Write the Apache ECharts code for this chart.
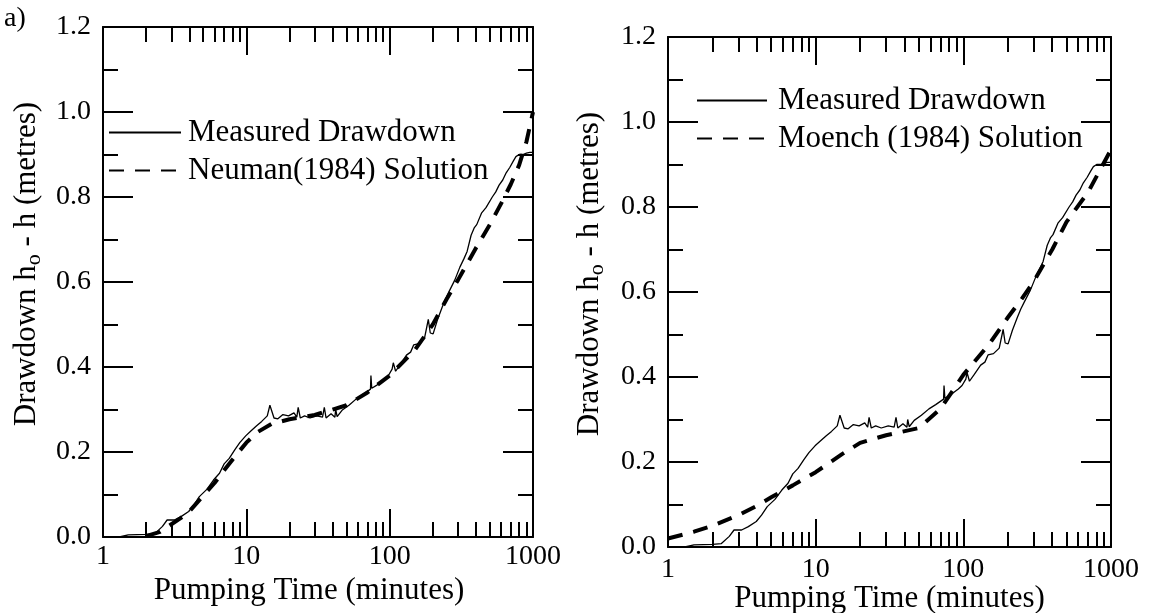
<!DOCTYPE html>
<html><head><meta charset="utf-8">
<script src="https://cdn.jsdelivr.net/npm/echarts@6/dist/echarts.min.js"></script>
<style>html,body{margin:0;padding:0;background:#fff}#c{width:1149px;height:613px}</style>
</head><body><div id="c"></div>
<script>
// ---- data ----
const measuredT = [1,1.3,1.5,2.0,2.3,2.6,2.8,3.15,3.5,3.96,4.3,4.7,5.3,5.9,6.5,7.0,7.6,8.3,9.0,9.9,10.8,11.8,12.8,14.0,14.6,15.0,15.6,16.6,18.0,19.7,21.5,22.5,23.0,23.8,25.5,27.8,31,34,35,36,39,41.5,42,43,46.5,52,58.5,65,73.5,74,75,82,92.5,98,104,106,110,118,131,140,147,160,175,183,186,192,201,215,232,245,260,285,309,330,347,370,390,405,437,470,520,550,580,615,650,690,730,760,800,850,900,950,1000];
const measuredY = [0,0,0.005,0.006,0.008,0.025,0.04,0.04,0.048,0.06,0.075,0.095,0.112,0.134,0.15,0.172,0.185,0.205,0.222,0.238,0.25,0.262,0.272,0.285,0.31,0.31,0.28,0.278,0.288,0.285,0.292,0.282,0.305,0.28,0.285,0.28,0.285,0.282,0.305,0.28,0.29,0.282,0.3,0.283,0.298,0.31,0.325,0.335,0.348,0.38,0.35,0.358,0.372,0.38,0.395,0.41,0.39,0.405,0.428,0.435,0.452,0.455,0.468,0.5,0.512,0.48,0.478,0.51,0.54,0.56,0.578,0.605,0.635,0.655,0.672,0.71,0.728,0.735,0.762,0.775,0.8,0.812,0.828,0.84,0.857,0.87,0.885,0.895,0.9,0.9,0.903,0.905,0.905];
const neumanT = [2,2.5,3,3.5,4,5,6,7,8,10,12,15,20,30,50,70,100,150,200,250,300,400,500,600,700,800,900,1000];
const neumanY = [0.002,0.012,0.03,0.045,0.06,0.097,0.127,0.157,0.182,0.222,0.247,0.266,0.277,0.287,0.31,0.34,0.38,0.44,0.5,0.56,0.605,0.68,0.735,0.785,0.83,0.875,0.93,1.0];
const moenchT = [1,1.5,2,3,4,5,7,10,15,20,30,50,70,100,150,200,250,300,400,500,700,1000];
const moenchY = [0.02,0.036,0.05,0.075,0.097,0.117,0.145,0.176,0.218,0.245,0.263,0.28,0.325,0.405,0.478,0.54,0.585,0.625,0.7,0.765,0.835,0.935];
const xLabels = ['1','10','100','1000'];
const yLabels = ['0.0','0.2','0.4','0.6','0.8','1.0','1.2'];
const panelLabel = 'a)';
const xTitle = 'Pumping Time (minutes)';
const yTitle = 'Drawdown h{sub|o} - h (metres)';
const legendNames = ['Measured Drawdown','Neuman(1984) Solution','Moench (1984) Solution'];

const pairs = (t, y) => t.map((v, i) => [v, y[i]]);
const FONT = '"Liberation Serif", "Times New Roman", "DejaVu Serif", serif';

function xAx(grid, pos, labels, nameGap, margin, namePad) {
  return {
    type: 'log', logBase: 10, min: 1, max: 1000, gridIndex: grid, position: pos,
    name: labels ? xTitle : '', nameLocation: 'middle', nameGap: nameGap, nameMoveOverlap: false,
    nameTextStyle: {fontFamily: FONT, fontSize: 31, color: '#000', padding: namePad},
    axisLine: {show: true, onZero: false, lineStyle: {color: '#000', width: 2}},
    axisTick: {show: true, inside: true, length: 28, lineStyle: {color: '#000', width: 2}},
    minorTick: {show: true, splitNumber: 9, length: 15, lineStyle: {color: '#000', width: 2}},
    axisLabel: {show: labels, fontFamily: FONT, fontSize: 28, color: '#000', margin: margin,
      formatter: v => xLabels[Math.round(Math.log10(v))]},
    splitLine: {show: false}, minorSplitLine: {show: false}
  };
}
function yAx(grid, pos, labels, nameGap) {
  return {
    type: 'value', min: 0, max: 1.2, interval: 0.2, gridIndex: grid, position: pos,
    name: labels ? yTitle : '', nameLocation: 'middle', nameGap: nameGap, nameRotate: 90, nameMoveOverlap: false,
    nameTextStyle: {fontFamily: FONT, fontSize: 31, color: '#000', lineHeight: 36, padding: [0, 0, 0, 36],
      rich: {sub: {fontFamily: FONT, fontSize: 22, color: '#000', verticalAlign: 'bottom', lineHeight: 18}}},
    axisLine: {show: true, onZero: false, lineStyle: {color: '#000', width: 2}},
    axisTick: {show: true, inside: true, length: 30, lineStyle: {color: '#000', width: 2}},
    minorTick: {show: true, splitNumber: 2, length: 15, lineStyle: {color: '#000', width: 2}},
    axisLabel: {show: labels, fontFamily: FONT, fontSize: 28, color: '#000', margin: 12,
      formatter: v => yLabels[Math.round(v / 0.2)]},
    splitLine: {show: false}
  };
}
const measuredStyle = {color: '#000', width: 1.3, type: 'solid'};
const dashStyle = {color: '#000', width: 4, type: [15, 11]};
function legendOf(left, top, width, textPad, names) {
  return {left: left, top: top, padding: 0, orient: 'vertical', itemWidth: width, itemHeight: 14, itemGap: 7,
    selectedMode: false, data: names, itemStyle: {opacity: 0, borderWidth: 0},
    textStyle: {fontFamily: FONT, fontSize: 31, color: '#000', padding: [0, 0, 0, textPad]}};
}

const chart = echarts.init(document.getElementById('c'), null, {renderer: 'canvas'});
chart.setOption({
  animation: false,
  backgroundColor: '#fff',
  color: ['#000'],
  textStyle: {fontFamily: FONT},
  grid: [
    {left: 103, top: 27, width: 430, height: 510, containLabel: false, outerBoundsMode: 'none'},
    {left: 668, top: 37, width: 443, height: 510, containLabel: false, outerBoundsMode: 'none'}
  ],
  xAxis: [xAx(0, 'bottom', true, 38, 6, [0, 18, 0, 0]), xAx(0, 'top', false, 0, 6, 0),
          xAx(1, 'bottom', true, 36, 9, 0), xAx(1, 'top', false, 0, 6, 0)],
  yAxis: [yAx(0, 'left', true, 58), yAx(0, 'right', false, 0), yAx(1, 'left', true, 60), yAx(1, 'right', false, 0)],
  legend: [
    legendOf(108, 117, 72, 2, [legendNames[0], legendNames[1]]),
    legendOf(696, 85, 70, 6, [legendNames[0], legendNames[2]])
  ],
  graphic: [{type: 'text', left: 4, top: 5, style: {text: panelLabel, fontFamily: FONT, fontSize: 28, fill: '#000'}}],
  series: [
    {name: legendNames[1], type: 'line', xAxisIndex: 0, yAxisIndex: 0, data: pairs(neumanT, neumanY), symbol: 'none', itemStyle: {color: '#000'}, lineStyle: dashStyle, z: 2},
    {name: legendNames[0], type: 'line', xAxisIndex: 0, yAxisIndex: 0, data: pairs(measuredT, measuredY), symbol: 'none', itemStyle: {color: '#000'}, lineStyle: measuredStyle, z: 3},
    {name: legendNames[2], type: 'line', xAxisIndex: 2, yAxisIndex: 2, data: pairs(moenchT, moenchY), symbol: 'none', itemStyle: {color: '#000'}, lineStyle: dashStyle, z: 2},
    {name: legendNames[0], type: 'line', xAxisIndex: 2, yAxisIndex: 2, data: pairs(measuredT, measuredY), symbol: 'none', itemStyle: {color: '#000'}, lineStyle: measuredStyle, z: 3}
  ]
});
</script></body></html>
